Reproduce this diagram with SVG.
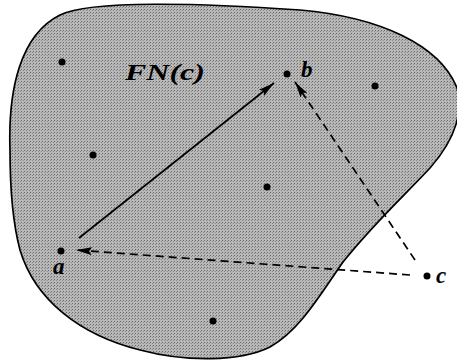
<svg xmlns="http://www.w3.org/2000/svg" width="457" height="364" viewBox="0 0 457 364">
<style>
.lbl{font-family:"Liberation Serif","DejaVu Serif",serif;font-style:italic;font-weight:bold;font-size:23px;fill:#000}
.dot{fill:#000}
.dash{stroke:#000;stroke-width:1.7;fill:none;stroke-dasharray:8 5}
.solid{stroke:#000;stroke-width:1.7;fill:none}
</style>
<defs>
<marker id="ah" viewBox="0 0 16 8" refX="16" refY="4" markerWidth="16" markerHeight="8" markerUnits="userSpaceOnUse" orient="auto">
<path d="M0,0 L16,4 L0,8 L3,4 Z" fill="#000"/>
</marker>
<pattern id="ht" width="3" height="3" patternUnits="userSpaceOnUse">
<rect width="3" height="3" fill="#b8b8b8"/>
<rect x="0" y="0" width="1" height="1" fill="#6a6a6a"/>
<rect x="2" y="1" width="1" height="1" fill="#888"/>
</pattern>
</defs>
<g id="region">
<path d="M10,150 C8,90 20,35 60,15 C90,0 200,3 300,10 C380,17 440,45 457,88 C465,118 450,145 430,168 C405,195 375,222 343,262 C320,295 300,330 270,347 C240,362 185,362 140,350 C80,335 35,300 20,250 C12,220 10,185 10,150 Z" fill="url(#ht)" stroke="#000" stroke-width="1.7"/>
<text class="lbl" x="125" y="80" font-size="27" textLength="80" lengthAdjust="spacingAndGlyphs">FN(c)</text>
</g>
<g id="p1"><circle class="dot" cx="62" cy="62" r="3.5"/></g>
<g id="p2"><circle class="dot" cx="375" cy="86" r="3.5"/></g>
<g id="p3"><circle class="dot" cx="93" cy="155" r="3.5"/></g>
<g id="p4"><circle class="dot" cx="267" cy="187" r="3.5"/></g>
<g id="p5"><circle class="dot" cx="213" cy="321" r="3.5"/></g>
<g id="b"><circle class="dot" cx="287" cy="74" r="3.5"/><text class="lbl" x="301" y="77">b</text></g>
<g id="a"><circle class="dot" cx="61" cy="251" r="3.5"/><text class="lbl" x="53" y="274">a</text></g>
<g id="c"><circle class="dot" cx="427" cy="276" r="3.5"/><text class="lbl" x="436" y="283">c</text></g>
<g id="connectors">
<line class="solid" x1="79" y1="238" x2="274" y2="83" marker-end="url(#ah)"/>
<line class="dash" x1="415" y1="260" x2="295" y2="82" marker-end="url(#ah)"/>
<line class="dash" x1="410" y1="275" x2="76" y2="250" marker-end="url(#ah)"/>
</g>
</svg>
